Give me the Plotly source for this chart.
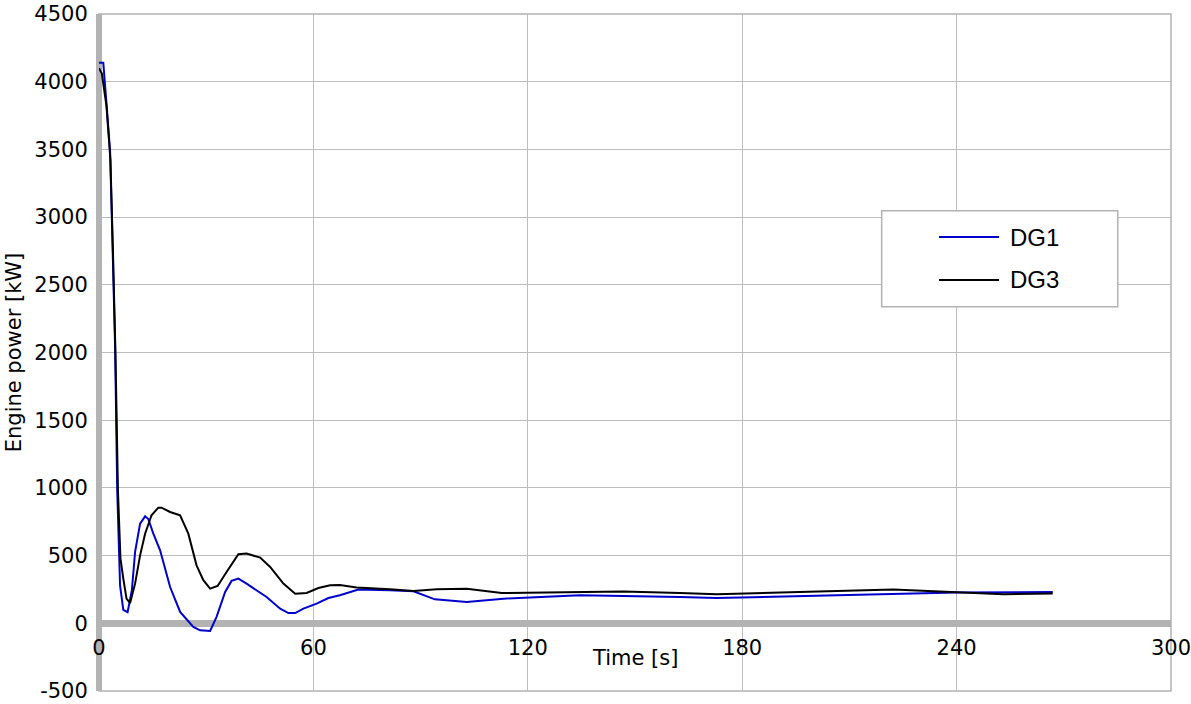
import plotly.graph_objects as go

# ---- data ----
dg1_time = [0, 1.2, 2.0, 3.1, 3.8, 4.5, 5.1, 5.9, 6.8, 8.0, 9.2, 10.1, 11.5, 12.9, 13.8,
            15.2, 17.1, 19.9, 22.7, 26.4, 28.3, 31.1, 32.9, 35.3, 37.1, 39.0, 41.3, 44.1,
            46.9, 50.7, 53.0, 54.9, 57.2, 60.9, 64.2, 67.4, 72.6, 81.4, 88.0, 94.0, 102.9,
            113.2, 134.6, 162.6, 172.9, 240.0, 266.9]
dg1_power = [4140, 4140, 3870, 3490, 2780, 2050, 980, 278, 100, 82, 244, 527, 736, 790, 770,
             662, 539, 268, 84, -27, -52, -57, 47, 231, 313, 330, 293, 244,
             194, 108, 76, 76, 108, 145, 187, 207, 249, 244, 236, 177, 157,
             182, 207, 194, 187, 227, 231]

dg3_time = [0, 0.8, 2.1, 3.2, 3.9, 4.6, 5.3, 6.0, 6.8, 7.7, 8.7, 10.1, 11.5, 12.9, 14.7,
            16.6, 17.5, 19.9, 22.7, 25.0, 27.3, 29.2, 31.1, 33.2, 35.7, 39.0, 41.3, 45.1,
            47.9, 51.6, 54.9, 58.1, 61.4, 64.7, 67.4, 72.1, 81.4, 88.0, 94.5, 102.9, 112.7,
            134.6, 146.7, 162.6, 172.9, 222.3, 240.0, 253.1, 266.9]
dg3_power = [4100, 4060, 3820, 3420, 2750, 2000, 980, 480, 330, 182, 150, 293, 502, 662, 798,
             854, 854, 822, 798, 662, 428, 318, 256, 276, 379, 510, 515, 485,
             416, 293, 219, 224, 261, 281, 283, 264, 251, 239, 251, 256, 224,
             227, 234, 224, 214, 249, 227, 214, 221]

series_names = ["DG1", "DG3"]
series_colors = ["#0000cc", "#000000"]

x_ticks = [0, 60, 120, 180, 240, 300]
y_ticks = list(range(-500, 4501, 500))

x_title = "Time [s]"
y_title = "Engine power [kW]"

tick_font = dict(family="DejaVu Sans", size=21, color="#000000")
grid_col = "#bdbdbd"
axis_col = "#b3b3b3"

fig = go.Figure()
fig.add_trace(go.Scatter(x=dg1_time, y=dg1_power, mode="lines", name=series_names[0],
                         line=dict(color=series_colors[0], width=2), showlegend=False))
fig.add_trace(go.Scatter(x=dg3_time, y=dg3_power, mode="lines", name=series_names[1],
                         line=dict(color=series_colors[1], width=2), showlegend=False))

fig.update_layout(
    width=1191, height=704,
    margin=dict(l=99, r=20, t=14, b=13, autoexpand=False),
    paper_bgcolor="white", plot_bgcolor="white",
    xaxis=dict(range=[0, 300], tickvals=x_ticks, ticktext=[str(v) for v in x_ticks],
               showgrid=True, gridcolor=grid_col, gridwidth=1,
               zeroline=True, zerolinecolor=axis_col, zerolinewidth=6,
               anchor="free", position=0.1, showline=False, automargin=False,
               ticklabeloverflow="allow",
               ticks="outside", ticklen=5, tickcolor="rgba(0,0,0,0)",
               tickfont=tick_font),
    yaxis=dict(range=[-500, 4500], tickvals=y_ticks, ticktext=[str(v) for v in y_ticks],
               showgrid=True, gridcolor=grid_col, gridwidth=1,
               zeroline=True, zerolinecolor=axis_col, zerolinewidth=7,
               showline=False, automargin=False, ticklabeloverflow="allow",
               ticks="outside", ticklen=6, tickcolor="rgba(0,0,0,0)",
               tickfont=tick_font),
)

# y axis title
fig.add_annotation(text=y_title, xref="paper", yref="paper", x=-0.0795, y=0.5,
                   xanchor="center", yanchor="middle", textangle=-90, showarrow=False,
                   font=dict(family="DejaVu Sans", size=21, color="#000"))

# plot frame
fig.add_shape(type="rect", xref="paper", yref="paper", x0=0, x1=1, y0=0, y1=1,
              line=dict(color=axis_col, width=1.5), layer="below")

# x axis title placed inside plot just below the zero line
fig.add_annotation(text=x_title, xref="paper", yref="paper", x=0.5, y=0.0487,
                   xanchor="center", yanchor="middle", showarrow=False,
                   font=dict(family="DejaVu Sans", size=21, color="#000"))

# legend box
fig.add_shape(type="rect", xref="paper", yref="paper", x0=0.7301, x1=0.9503,
              y0=0.5677, y1=0.7095, line=dict(color="#b3b3b3", width=1.5),
              fillcolor="white", layer="above")
leg_y = [0.6706, 0.6071]
for name, col, yy in zip(series_names, series_colors, leg_y):
    fig.add_shape(type="line", xref="paper", yref="paper", x0=0.7836, x1=0.8396,
                  y0=yy, y1=yy, line=dict(color=col, width=2), layer="above")
    fig.add_annotation(text=name, xref="paper", yref="paper", x=0.8479, y=yy,
                       xanchor="left", yanchor="middle", showarrow=False,
                       font=dict(family="Liberation Sans", size=24, color="#000"))

fig.write_html("out.html", config={"displayModeBar": False},
               post_script="document.body.style.margin='0';")
